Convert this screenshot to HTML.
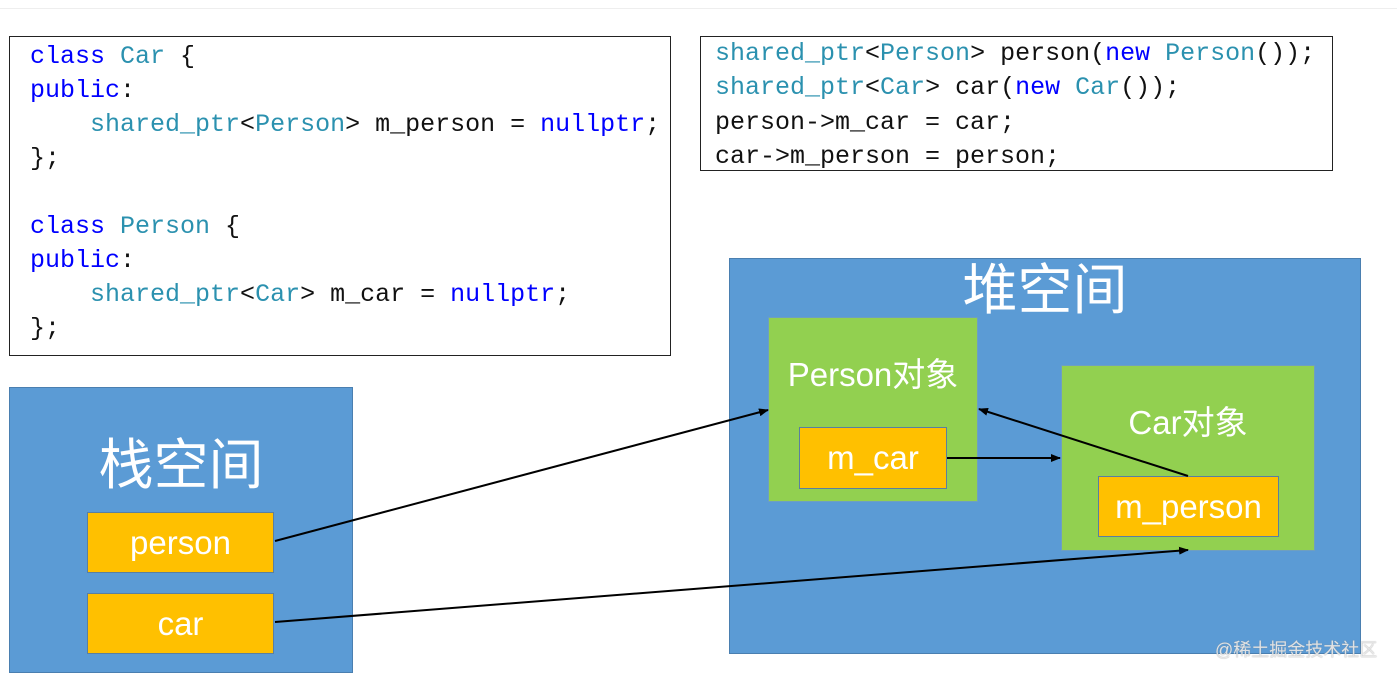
<!DOCTYPE html>
<html><head><meta charset="utf-8"><style>
body{margin:0;width:1397px;height:679px;background:#fff;position:relative;overflow:hidden;font-family:"Liberation Sans","Noto Sans CJK SC",sans-serif}
.a{position:absolute;box-sizing:border-box}
.code{border:1px solid #222;background:#fff;font-family:"Liberation Mono",monospace;font-size:25px;color:#111}
.code div{position:absolute;white-space:pre;line-height:34px}
.t{color:#2b91af}.k{color:#0000ff}
.blue{background:#5b9bd5;border:1px solid #4a7fb0}
.green{background:#92d050;border:1px solid #6f9fbf}
.or{background:#ffc000;border:1px solid #5a7fa0;color:#fff;font-size:33px;display:flex;align-items:center;justify-content:center}
.lbl{position:absolute;color:#fff;text-align:center;width:100%}
</style></head><body>
<div class="a" style="left:0;top:8px;width:1397px;height:1px;background:#eee"></div>
<div class="a code" style="left:9px;top:36px;width:662px;height:320px">
<div style="left:20px;top:3px"><span class="k">class</span> <span class="t">Car</span> {</div>
<div style="left:20px;top:37px"><span class="k">public</span>:</div>
<div style="left:20px;top:71px">    <span class="t">shared_ptr</span>&lt;<span class="t">Person</span>&gt; m_person = <span class="k">nullptr</span>;</div>
<div style="left:20px;top:105px">};</div>
<div style="left:20px;top:173px"><span class="k">class</span> <span class="t">Person</span> {</div>
<div style="left:20px;top:207px"><span class="k">public</span>:</div>
<div style="left:20px;top:241px">    <span class="t">shared_ptr</span>&lt;<span class="t">Car</span>&gt; m_car = <span class="k">nullptr</span>;</div>
<div style="left:20px;top:275px">};</div>
</div>
<div class="a code" style="left:700px;top:36px;width:633px;height:135px">
<div style="left:14px;top:0px"><span class="t">shared_ptr</span>&lt;<span class="t">Person</span>&gt; person(<span class="k">new</span> <span class="t">Person</span>());</div>
<div style="left:14px;top:34px"><span class="t">shared_ptr</span>&lt;<span class="t">Car</span>&gt; car(<span class="k">new</span> <span class="t">Car</span>());</div>
<div style="left:14px;top:69px">person-&gt;m_car = car;</div>
<div style="left:14px;top:103px">car-&gt;m_person = person;</div>
</div>
<div class="a blue" style="left:9px;top:387px;width:344px;height:286px"><div class="lbl" style="top:42px;font-size:55px;line-height:70px">栈空间</div></div>
<div class="a or" style="left:87px;top:512px;width:187px;height:61px">person</div>
<div class="a or" style="left:87px;top:593px;width:187px;height:61px">car</div>
<div class="a blue" style="left:729px;top:258px;width:632px;height:396px"><div class="lbl" style="top:-4px;font-size:55px;line-height:70px">堆空间</div></div>
<div class="a green" style="left:768px;top:317px;width:210px;height:185px"><div class="lbl" style="top:30px;font-size:33px">Person对象</div></div>
<div class="a or" style="left:799px;top:427px;width:148px;height:62px">m_car</div>
<div class="a green" style="left:1061px;top:365px;width:254px;height:186px"><div class="lbl" style="top:30px;font-size:33px">Car对象</div></div>
<div class="a or" style="left:1098px;top:476px;width:181px;height:61px">m_person</div>
<div class="a" style="left:1215px;top:636px;font-size:18px;color:rgba(255,255,255,0.75);text-shadow:0 0 1px #888">@稀土掘金技术社区</div>
<svg class="a" style="left:0;top:0" width="1397" height="679">
<defs><marker id="m" markerWidth="10" markerHeight="8" refX="9" refY="4" orient="auto" markerUnits="userSpaceOnUse"><path d="M0,0L10,4L0,8z" fill="#000"/></marker></defs>
<g stroke="#000" stroke-width="2" fill="none" marker-end="url(#m)">
<line x1="275" y1="541" x2="768" y2="410"/>
<line x1="947" y1="458" x2="1060" y2="458"/>
<line x1="1188" y1="476" x2="979" y2="409"/>
<line x1="275" y1="622" x2="1188" y2="550"/>
</g></svg>
</body></html>
